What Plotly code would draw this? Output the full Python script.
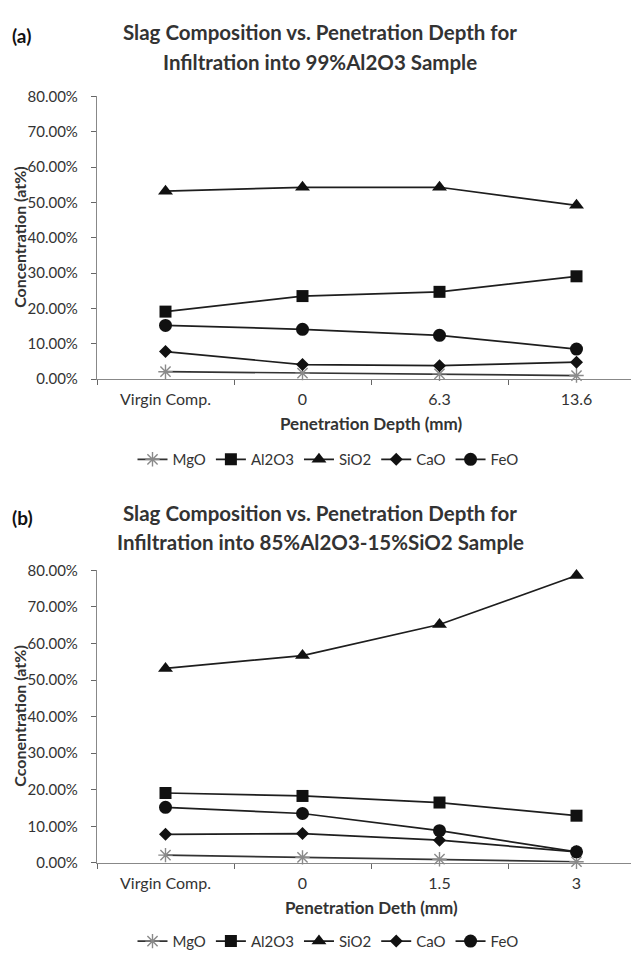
import plotly.graph_objects as go

W, H = 639, 959

cats_a = ["Virgin Comp.", "0", "6.3", "13.6"]
cats_b = ["Virgin Comp.", "0", "1.5", "3"]
series = ["MgO", "Al2O3", "SiO2", "CaO", "FeO"]

mgo_a = [0.021, 0.017, 0.015, 0.010]
al2o3_a = [0.191, 0.235, 0.247, 0.291]
sio2_a = [0.532, 0.543, 0.543, 0.492]
cao_a = [0.078, 0.041, 0.038, 0.048]
feo_a = [0.152, 0.141, 0.124, 0.085]

mgo_b = [0.021, 0.015, 0.010, 0.003]
al2o3_b = [0.191, 0.183, 0.165, 0.129]
sio2_b = [0.532, 0.567, 0.652, 0.786]
cao_b = [0.078, 0.080, 0.062, 0.030]
feo_b = [0.152, 0.135, 0.088, 0.030]

yticks = [0, 0.1, 0.2, 0.3, 0.4, 0.5, 0.6, 0.7, 0.8]

FONT = "Lato"
DARK = "#1e1e1e"
OFF = 8  # page body margin in the screenshot

styles = {
    "MgO": dict(symbol="asterisk-open", size=12, color="#8a8a8a", line=dict(width=1.4, color="#8a8a8a")),
    "Al2O3": dict(symbol="square", size=12, color="#111111"),
    "SiO2": dict(symbol="triangle-up", size=13, color="#111111"),
    "CaO": dict(symbol="diamond", size=10, color="#111111"),
    "FeO": dict(symbol="circle", size=13, color="#111111"),
}
line_col = {"MgO": "#333333", "Al2O3": DARK, "SiO2": DARK, "CaO": DARK, "FeO": DARK}


def py(p):
    return 1 - (p - OFF) / H


def px(p):
    return (p - OFF) / W


fig = go.Figure()

data_a = [mgo_a, al2o3_a, sio2_a, cao_a, feo_a]
data_b = [mgo_b, al2o3_b, sio2_b, cao_b, feo_b]

for name, vals in zip(series, data_a):
    fig.add_trace(go.Scatter(x=cats_a, y=vals, name=name, mode="lines+markers",
                             line=dict(color=line_col[name], width=1.7),
                             marker=styles[name], cliponaxis=False,
                             xaxis="x", yaxis="y", legend="legend"))
for name, vals in zip(series, data_b):
    fig.add_trace(go.Scatter(x=cats_b, y=vals, name=name, mode="lines+markers",
                             line=dict(color=line_col[name], width=1.7),
                             marker=styles[name], cliponaxis=False,
                             xaxis="x2", yaxis="y2", legend="legend2"))

# target screen positions (px)
x0, x1 = 97, 647
unit = 137.0
xr = [-0.5, -0.5 + (x1 - x0) / unit]

axis_common_x = dict(type="category", tickson="boundaries", ticks="outside", ticklen=5,
                     tickcolor="#666", showline=True, linecolor="#888", linewidth=1.2,
                     showgrid=False, zeroline=False, range=xr, domain=[px(x0), min(1, px(x1))],
                     ticklabelstandoff=6,
                     tickfont=dict(family=FONT, size=16, color="#333"))
axis_common_y = dict(range=[0, 0.8], tickvals=yticks, tickformat=".2%", ticks="outside", ticklen=5,
                     tickcolor="#666", showline=True, linecolor="#888", linewidth=1.2,
                     showgrid=False, zeroline=False, ticklabelstandoff=10,
                     tickfont=dict(family=FONT, size=15, color="#333"))

a_top, a_bot = 88, 376
b_top, b_bot = 571, 869

leg = dict(orientation="h", xanchor="center", yanchor="middle",
           font=dict(family=FONT, size=15, color="#333"), itemwidth=30,
           bgcolor="rgba(0,0,0,0)", tracegroupgap=0)

fig.update_layout(
    width=W, height=H,
    margin=dict(l=0, r=0, t=0, b=0),
    paper_bgcolor="white", plot_bgcolor="white",
    xaxis=dict(axis_common_x, anchor="y"),
    yaxis=dict(axis_common_y, domain=[py(a_bot), py(a_top)], anchor="x"),
    xaxis2=dict(axis_common_x, anchor="y2"),
    yaxis2=dict(axis_common_y, domain=[py(b_bot), py(b_top)], anchor="x2"),
    legend=dict(leg, x=px(328), y=py(458)),
    legend2=dict(leg, x=px(328), y=py(949)),
    showlegend=True,
)

ann = []
def add(text, x, y, size, bold=True, angle=0, xanchor="center", color="#333"):
    ann.append(dict(text=f"<b>{text}</b>" if bold else text, x=px(x), y=py(y), xref="paper", yref="paper",
                    showarrow=False, xanchor=xanchor, yanchor="middle", textangle=angle,
                    font=dict(family=FONT, size=size, color=color)))

add("(a)", 10, 26, 19, xanchor="left", color="#111")
add("Slag Composition vs. Penetration Depth for", 320, 22, 20.5)
add("Infiltration into 99%Al2O3 Sample", 320, 53, 20.5)
add("Concentration (at%)", 20, 232, 16, angle=-90)
add("Penetration Depth (mm)", 371, 421, 17)

add("(b)", 10, 517, 19, xanchor="left", color="#111")
add("Slag Composition vs. Penetration Depth for", 320, 512, 20.5)
add("Infiltration into 85%Al2O3-15%SiO2 Sample", 320, 542, 20.5)
add("Cconentration (at%)", 20, 720, 16, angle=-90)
add("Penetration Deth (mm)", 371, 915, 17)

fig.update_layout(annotations=ann)

fig.write_html("out.html")
